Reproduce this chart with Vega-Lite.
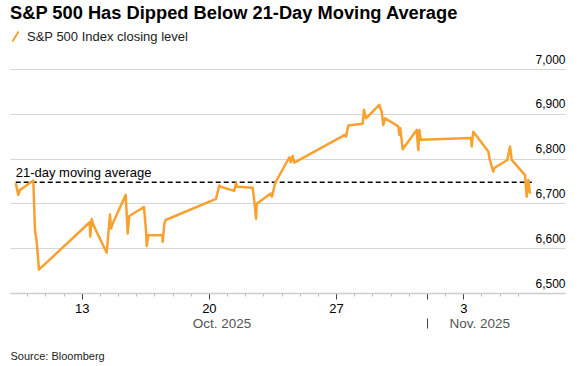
{
  "$schema": "https://vega.github.io/schema/vega-lite/v6.json",
  "width": 555,
  "height": 224,
  "autosize": {"type": "none"},
  "padding": {"left": 10, "top": 69, "right": 14, "bottom": 73},
  "background": "white",
  "config": {"font": "Liberation Sans", "view": {"stroke": null}},
  "title": {
    "text": "S&P 500 Has Dipped Below 21-Day Moving Average",
    "anchor": "start",
    "frame": "group",
    "fontSize": 18.3,
    "fontWeight": "bold",
    "color": "#000000",
    "baseline": "alphabetic",
    "offset": -7
  },
  "layer": [
    {
      "data": {"values": [
        {"t": "2025-10-09T08:51:00Z", "t2": "2025-11-06T18:24:00Z", "v": 6747}
      ]},
      "mark": {"type": "rule", "color": "#000000", "strokeWidth": 1.5, "strokeDash": [5, 3]},
      "encoding": {
        "x": {
          "field": "t", "type": "temporal",
          "scale": {"type": "utc", "domain": ["2025-10-09T01:19:00Z", "2025-11-08T14:24:00Z"]},
          "axis": {
            "orient": "bottom",
            "offset": 25,
            "values": [
              {"year": 2025, "month": 10, "date": 20, "hours": 16, "minutes": 40, "utc": true},
              {"year": 2025, "month": 11, "date": 1, "utc": true},
              {"year": 2025, "month": 11, "date": 3, "hours": 21, "utc": true}
            ],
            "labelExpr": "utcdate(datum.value) == 1 ? '' : (utcmonth(datum.value) == 9 ? 'Oct. 2025' : 'Nov. 2025')",
            "domain": false,
            "grid": false,
            "tickSize": 10,
            "tickColor": "#444444",
            "tickOpacity": {"condition": {"test": "utcdate(datum.value) == 1", "value": 1}, "value": 0},
            "labelPadding": -12,
            "labelFontSize": 13.5,
            "labelColor": "#555555",
            "labelFlush": false,
            "labelOverlap": false,
            "title": null
          }
        },
        "x2": {"field": "t2"},
        "y": {"field": "v", "type": "quantitative", "scale": {"domain": [6500, 7000], "nice": false, "zero": false}}
      }
    },
    {
      "data": {"values": [
        {"t": "2025-10-09T08:51:00Z", "v": 6745},
        {"t": "2025-10-09T12:17:00Z", "v": 6719},
        {"t": "2025-10-09T14:32:00Z", "v": 6730},
        {"t": "2025-10-10T08:06:00Z", "v": 6751},
        {"t": "2025-10-10T10:20:00Z", "v": 6640},
        {"t": "2025-10-10T12:36:00Z", "v": 6614},
        {"t": "2025-10-10T15:36:00Z", "v": 6552},
        {"t": "2025-10-13T10:36:00Z", "v": 6658},
        {"t": "2025-10-13T11:18:00Z", "v": 6626},
        {"t": "2025-10-13T13:12:00Z", "v": 6665},
        {"t": "2025-10-13T15:21:00Z", "v": 6652},
        {"t": "2025-10-14T09:03:00Z", "v": 6590},
        {"t": "2025-10-14T13:24:00Z", "v": 6675},
        {"t": "2025-10-14T14:42:00Z", "v": 6644},
        {"t": "2025-10-14T16:59:00Z", "v": 6655},
        {"t": "2025-10-15T10:09:00Z", "v": 6719},
        {"t": "2025-10-15T12:48:00Z", "v": 6633},
        {"t": "2025-10-15T14:54:00Z", "v": 6672},
        {"t": "2025-10-16T10:18:00Z", "v": 6692},
        {"t": "2025-10-16T12:58:00Z", "v": 6640},
        {"t": "2025-10-16T13:54:00Z", "v": 6605},
        {"t": "2025-10-16T16:00:00Z", "v": 6629},
        {"t": "2025-10-17T10:30:00Z", "v": 6629},
        {"t": "2025-10-17T11:00:00Z", "v": 6614},
        {"t": "2025-10-17T13:06:00Z", "v": 6654},
        {"t": "2025-10-17T15:00:00Z", "v": 6663},
        {"t": "2025-10-20T09:24:00Z", "v": 6710},
        {"t": "2025-10-20T13:48:00Z", "v": 6740},
        {"t": "2025-10-20T16:00:00Z", "v": 6737},
        {"t": "2025-10-21T09:36:00Z", "v": 6728},
        {"t": "2025-10-21T11:48:00Z", "v": 6745},
        {"t": "2025-10-21T13:36:00Z", "v": 6737},
        {"t": "2025-10-22T09:54:00Z", "v": 6735},
        {"t": "2025-10-22T12:54:00Z", "v": 6692},
        {"t": "2025-10-22T14:18:00Z", "v": 6666},
        {"t": "2025-10-22T15:12:00Z", "v": 6699},
        {"t": "2025-10-23T09:42:00Z", "v": 6722},
        {"t": "2025-10-23T11:24:00Z", "v": 6715},
        {"t": "2025-10-23T15:24:00Z", "v": 6745},
        {"t": "2025-10-24T10:18:00Z", "v": 6803},
        {"t": "2025-10-24T12:12:00Z", "v": 6792},
        {"t": "2025-10-24T14:42:00Z", "v": 6806},
        {"t": "2025-10-24T16:54:00Z", "v": 6791},
        {"t": "2025-10-27T11:48:00Z", "v": 6853},
        {"t": "2025-10-27T13:06:00Z", "v": 6849},
        {"t": "2025-10-27T16:12:00Z", "v": 6874},
        {"t": "2025-10-28T11:12:00Z", "v": 6878},
        {"t": "2025-10-28T12:54:00Z", "v": 6909},
        {"t": "2025-10-28T15:36:00Z", "v": 6890},
        {"t": "2025-10-29T09:06:00Z", "v": 6920},
        {"t": "2025-10-29T12:18:00Z", "v": 6905},
        {"t": "2025-10-29T14:24:00Z", "v": 6875},
        {"t": "2025-10-29T16:42:00Z", "v": 6890},
        {"t": "2025-10-30T10:12:00Z", "v": 6872},
        {"t": "2025-10-30T11:30:00Z", "v": 6853},
        {"t": "2025-10-30T12:48:00Z", "v": 6868},
        {"t": "2025-10-30T16:00:00Z", "v": 6821},
        {"t": "2025-10-31T10:30:00Z", "v": 6864},
        {"t": "2025-10-31T12:36:00Z", "v": 6819},
        {"t": "2025-10-31T14:00:00Z", "v": 6864},
        {"t": "2025-10-31T15:48:00Z", "v": 6842},
        {"t": "2025-11-03T10:18:00Z", "v": 6846},
        {"t": "2025-11-03T11:12:00Z", "v": 6827},
        {"t": "2025-11-03T13:18:00Z", "v": 6860},
        {"t": "2025-11-04T09:06:00Z", "v": 6816},
        {"t": "2025-11-04T11:00:00Z", "v": 6797},
        {"t": "2025-11-04T15:42:00Z", "v": 6771},
        {"t": "2025-11-04T17:00:00Z", "v": 6779},
        {"t": "2025-11-05T10:12:00Z", "v": 6797},
        {"t": "2025-11-05T13:48:00Z", "v": 6827},
        {"t": "2025-11-05T16:00:00Z", "v": 6797},
        {"t": "2025-11-06T09:36:00Z", "v": 6763},
        {"t": "2025-11-06T11:48:00Z", "v": 6715},
        {"t": "2025-11-06T14:00:00Z", "v": 6752},
        {"t": "2025-11-06T16:12:00Z", "v": 6722}
      ]},
      "mark": {"type": "line", "strokeWidth": 2.5, "strokeJoin": "round"},
      "encoding": {
        "x": {
          "field": "t", "type": "temporal",
          "scale": {"type": "utc", "domain": ["2025-10-09T01:19:00Z", "2025-11-08T14:24:00Z"]},
          "axis": {
            "orient": "bottom",
            "values": [
              {"year": 2025, "month": 10, "date": 10, "utc": true},
              {"year": 2025, "month": 10, "date": 11, "utc": true},
              {"year": 2025, "month": 10, "date": 12, "utc": true},
              {"year": 2025, "month": 10, "date": 13, "utc": true},
              {"year": 2025, "month": 10, "date": 14, "utc": true},
              {"year": 2025, "month": 10, "date": 15, "utc": true},
              {"year": 2025, "month": 10, "date": 16, "utc": true},
              {"year": 2025, "month": 10, "date": 17, "utc": true},
              {"year": 2025, "month": 10, "date": 18, "utc": true},
              {"year": 2025, "month": 10, "date": 19, "utc": true},
              {"year": 2025, "month": 10, "date": 20, "utc": true},
              {"year": 2025, "month": 10, "date": 21, "utc": true},
              {"year": 2025, "month": 10, "date": 22, "utc": true},
              {"year": 2025, "month": 10, "date": 23, "utc": true},
              {"year": 2025, "month": 10, "date": 24, "utc": true},
              {"year": 2025, "month": 10, "date": 25, "utc": true},
              {"year": 2025, "month": 10, "date": 26, "utc": true},
              {"year": 2025, "month": 10, "date": 27, "utc": true},
              {"year": 2025, "month": 10, "date": 28, "utc": true},
              {"year": 2025, "month": 10, "date": 29, "utc": true},
              {"year": 2025, "month": 10, "date": 30, "utc": true},
              {"year": 2025, "month": 10, "date": 31, "utc": true},
              {"year": 2025, "month": 11, "date": 1, "utc": true},
              {"year": 2025, "month": 11, "date": 2, "utc": true},
              {"year": 2025, "month": 11, "date": 3, "utc": true},
              {"year": 2025, "month": 11, "date": 4, "utc": true},
              {"year": 2025, "month": 11, "date": 5, "utc": true},
              {"year": 2025, "month": 11, "date": 6, "utc": true}
            ],
            "labelExpr": "utcday(datum.value) == 1 ? '' + utcdate(datum.value) : ''",
            "tickSize": {"condition": {"test": "utcday(datum.value) == 1 || utcdate(datum.value) == 1", "value": 6}, "value": 3},
            "tickColor": {"condition": {"test": "utcday(datum.value) == 1 || utcdate(datum.value) == 1", "value": "#444444"}, "value": "#bbbbbb"},
            "tickWidth": 1,
            "domainColor": "#cccccc",
            "domainWidth": 1.5,
            "grid": false,
            "labelFontSize": 13,
            "labelColor": "#000000",
            "labelPadding": 3,
            "labelFlush": false,
            "labelOverlap": false,
            "title": "Source: Bloomberg",
            "titleX": 0,
            "titleY": 66,
            "titleAlign": "left",
            "titleAnchor": "start",
            "titleBaseline": "alphabetic",
            "titleFontSize": 11,
            "titleFontWeight": "normal",
            "titleColor": "#222222"
          }
        },
        "y": {
          "field": "v", "type": "quantitative",
          "scale": {"domain": [6500, 7000], "nice": false, "zero": false},
          "axis": {
            "orient": "right",
            "values": [6500, 6600, 6700, 6800, 6900, 7000],
            "format": ",.0f",
            "grid": true,
            "gridColor": "#d6d6d6",
            "gridWidth": 1.2,
            "domain": false,
            "ticks": false,
            "tickSize": 0,
            "labelAlign": "right",
            "labelPadding": 0,
            "labelBaseline": "alphabetic",
            "labelOffset": -6,
            "labelFontSize": 12,
            "labelColor": "#000000",
            "title": null
          }
        },
        "color": {
          "datum": "S&P 500 Index closing level",
          "type": "nominal",
          "scale": {"range": ["#f9a130"]},
          "legend": {
            "orient": "none",
            "legendX": -1,
            "legendY": -39,
            "title": null,
            "padding": 0,
            "symbolType": "M-0.6,1L0.6,-1",
            "symbolSize": 100,
            "symbolStrokeWidth": 2,
            "labelFontSize": 13,
            "labelLimit": 400,
            "labelColor": "#222222",
            "labelOffset": 5
          }
        }
      }
    },
    {
      "data": {"values": [
        {"t": "2025-10-09T08:51:00Z", "v": 6747, "label": "21-day moving average"}
      ]},
      "mark": {"type": "text", "align": "left", "baseline": "alphabetic", "dy": -5, "fontSize": 13, "color": "#000000"},
      "encoding": {
        "x": {"field": "t", "type": "temporal", "axis": null},
        "y": {"field": "v", "type": "quantitative"},
        "text": {"field": "label"}
      }
    }
  ],
  "resolve": {"axis": {"x": "independent"}}
}
